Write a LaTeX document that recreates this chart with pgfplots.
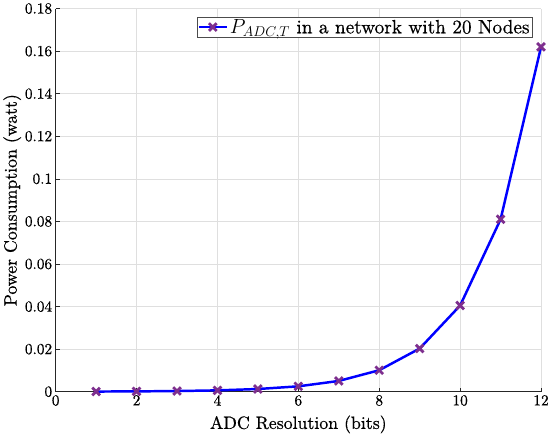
\documentclass[border=0pt]{standalone}
\usepackage{fontspec}
\setmainfont{lmroman10-regular.otf}[FakeBold=0.6]
\usepackage{pgfplots}
\pgfplotsset{compat=1.18}
\definecolor{mpurple}{RGB}{126,47,142}
\definecolor{axgray}{RGB}{38,38,38}
\definecolor{gridgray}{RGB}{223,223,223}
\begin{document}
\begin{tikzpicture}
\begin{axis}[
  scale only axis,
  width=489bp, height=386bp,
  xmin=0, xmax=12, ymin=0, ymax=0.18,
  xtick={0,2,...,12},
  ytick={0,0.02,...,0.18},
  yticklabel style={/pgf/number format/.cd,fixed,precision=2,assume math mode=true},
  xticklabel style={/pgf/number format/assume math mode=true},
  scaled y ticks=false,
  axis x line*=bottom, axis y line*=left,
  axis line style={axgray, line width=0.6pt},
  tick align=inside,
  tick style={axgray, line width=0.6pt},
  major tick length=4bp,
  grid=major,
  major grid style={gridgray, line width=0.5pt},
  ticklabel style={font=\fontsize{15.5}{17}\selectfont},
  label style={font=\fontsize{18}{20}\selectfont},
  xlabel style={yshift=-3bp},
  ylabel style={yshift=-3bp},
  xlabel={ADC Resolution (bits)},
  ylabel={Power Consumption (watt)},
  legend style={at={(0.982,0.979)}, anchor=north east, font=\fontsize{19.5}{21}\selectfont,
    draw=black!70, line width=0.5pt, inner sep=0.5pt},
  legend image code/.code={
    \draw[line width=2.5pt, mark repeat=2, mark phase=2]
      plot coordinates {(0bp,0bp) (14bp,0bp) (28bp,0bp)};},
  legend cell align=left,
  clip=false,
]
\addplot[blue, line width=2.5pt, mark=x, mark size=5.5pt,
  mark options={mpurple, line width=2.8pt}] coordinates {
(1,0.0000791)
(2,0.000158)
(3,0.000316)
(4,0.000633)
(5,0.00127)
(6,0.00253)
(7,0.00506)
(8,0.0101)
(9,0.0203)
(10,0.0405)
(11,0.0810)
(12,0.162)
};
\legend{$P_{ADC,T}$ in a network with 20 Nodes}
\end{axis}
\end{tikzpicture}
\end{document}
